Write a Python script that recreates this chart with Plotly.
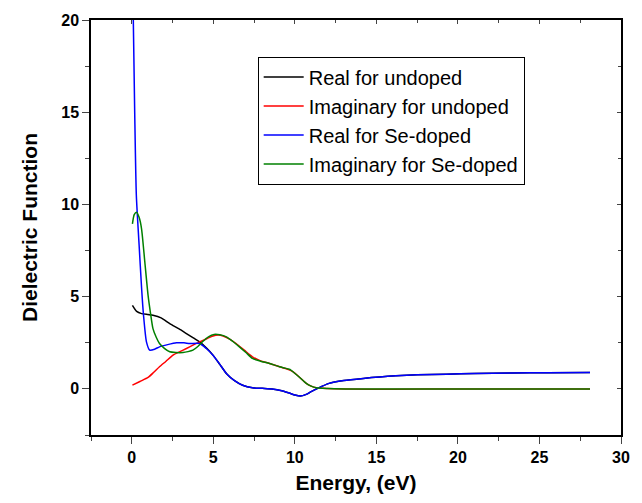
import plotly.graph_objects as go

# Real part, undoped
e_real_undoped = [0.04, 0.3, 0.6, 1.0, 1.3, 1.8, 2.33, 2.9, 3.35, 3.8, 4.16, 4.6, 4.98, 5.4, 5.8, 6.3, 6.8, 7.4, 8.0, 8.6, 9.2, 9.7, 10.0, 10.33, 10.7, 11.0, 11.4, 12.1, 13.0, 14.2, 15.2, 16.2, 17.5, 19.3, 21.0, 23.3, 25.5, 28.1]
v_real_undoped = [4.53, 4.2, 4.08, 4.03, 3.99, 3.85, 3.54, 3.25, 3.0, 2.75, 2.55, 2.2, 1.83, 1.33, 0.84, 0.45, 0.2, 0.06, 0.03, 0.0, -0.1, -0.24, -0.33, -0.39, -0.3, -0.15, 0.03, 0.3, 0.45, 0.57, 0.65, 0.71, 0.76, 0.8, 0.83, 0.86, 0.88, 0.89]

# Imaginary part, undoped
e_imag_undoped = [0.04, 0.5, 1.0, 1.35, 1.7, 2.1, 2.53, 2.95, 3.35, 3.75, 4.16, 4.6, 4.98, 5.3, 5.6, 6.0, 6.4, 6.9, 7.4, 7.9, 8.45, 9.06, 9.7, 9.88, 10.3, 10.7, 11.0, 11.3, 12.0, 13.1, 16.0, 20.0, 24.0, 28.1]
v_imag_undoped = [0.2, 0.4, 0.62, 0.9, 1.2, 1.5, 1.83, 2.02, 2.19, 2.37, 2.55, 2.72, 2.87, 2.92, 2.87, 2.7, 2.46, 2.1, 1.74, 1.52, 1.38, 1.2, 1.02, 0.93, 0.62, 0.3, 0.15, 0.06, 0.02, 0.0, -0.02, 0.0, -0.01, 0.0]

# Real part, Se-doped
e_real_se = [0.06, 0.18, 0.28, 0.45, 0.6, 0.72, 0.9, 1.1, 1.4, 1.7, 2.2, 2.74, 3.2, 3.55, 4.16, 4.57, 4.98, 5.4, 5.8, 6.3, 6.8, 7.4, 8.0, 8.6, 9.2, 9.7, 10.0, 10.33, 10.7, 11.0, 11.4, 12.1, 13.0, 14.2, 15.2, 16.2, 17.5, 19.3, 21.0, 23.3, 25.5, 28.1]
v_real_se = [22.0, 15.0, 10.5, 7.8, 5.5, 4.0, 2.55, 2.1, 2.15, 2.28, 2.4, 2.5, 2.5, 2.46, 2.46, 2.19, 1.83, 1.33, 0.84, 0.45, 0.2, 0.06, 0.03, 0.0, -0.1, -0.24, -0.33, -0.39, -0.3, -0.15, 0.03, 0.3, 0.45, 0.57, 0.65, 0.71, 0.76, 0.8, 0.83, 0.86, 0.88, 0.89]

# Imaginary part, Se-doped
e_imag_se = [0.04, 0.15, 0.29, 0.45, 0.6, 0.8, 1.0, 1.15, 1.3, 1.5, 1.7, 2.0, 2.33, 2.7, 3.14, 3.45, 3.75, 4.05, 4.37, 4.7, 5.05, 5.4, 5.8, 6.2, 6.6, 7.0, 7.4, 7.9, 8.45, 9.06, 9.7, 9.88, 10.3, 10.7, 11.0, 11.3, 12.0, 13.1, 16.0, 20.0, 24.0, 28.1]
v_imag_se = [8.95, 9.45, 9.58, 9.3, 8.68, 6.88, 5.07, 4.1, 3.27, 2.8, 2.46, 2.2, 2.01, 1.97, 1.97, 2.02, 2.1, 2.3, 2.58, 2.82, 2.95, 2.93, 2.82, 2.57, 2.28, 1.97, 1.65, 1.5, 1.38, 1.2, 1.05, 0.93, 0.62, 0.3, 0.15, 0.06, 0.02, 0.0, 0.0, 0.0, 0.0, 0.0]

x_ticks = [0, 5, 10, 15, 20, 25, 30]
y_ticks = [0, 5, 10, 15, 20]

series = [
    ("Real for undoped", e_real_undoped, v_real_undoped, "#000000"),
    ("Imaginary for undoped", e_imag_undoped, v_imag_undoped, "#ff0000"),
    ("Real for Se-doped", e_real_se, v_real_se, "#0000ff"),
    ("Imaginary for Se-doped", e_imag_se, v_imag_se, "#008000"),
]

fig = go.Figure()
for name, xs, ys, col in series:
    fig.add_trace(go.Scatter(x=xs, y=ys, mode="lines", name=name,
                             line=dict(color=col, width=1.5, shape="spline", smoothing=0.6)))

font_family = "Liberation Sans, Arial, sans-serif"
XR = [-2.5, 30]
YR = [-2.5, 20]

fig.update_layout(
    width=642, height=503,
    margin=dict(l=91, r=20, t=20, b=66),
    plot_bgcolor="white", paper_bgcolor="white",
    font=dict(family=font_family, color="black"),
    showlegend=True,
    legend=dict(x=0.3145, y=0.912, xanchor="left", yanchor="top",
                bordercolor="black", borderwidth=1, bgcolor="white",
                font=dict(family=font_family, size=20, color="black"),
                tracegroupgap=0, itemwidth=40),
    xaxis=dict(range=XR, tickvals=x_ticks, ticktext=[f"<b>{t}</b>" for t in x_ticks],
               ticks="outside", ticklen=7, tickwidth=1.2,
               showline=True, linecolor="black", linewidth=1.5, showgrid=False, zeroline=False,
               tickfont=dict(family=font_family, size=16),
               minor=dict(dtick=2.5, tick0=0, ticks="outside", ticklen=4, tickwidth=1.2, showgrid=False),
               title=dict(text="<b>Energy, (eV)</b>", font=dict(family=font_family, size=21), standoff=10)),
    yaxis=dict(range=YR, tickvals=y_ticks, ticktext=[f"<b>{t}</b>" for t in y_ticks],
               ticks="outside", ticklen=7, tickwidth=1.2,
               showline=True, linecolor="black", linewidth=1.5, showgrid=False, zeroline=False,
               tickfont=dict(family=font_family, size=16),
               minor=dict(dtick=2.5, tick0=0, ticks="outside", ticklen=4, tickwidth=1.2, showgrid=False),
               title=dict(text="<b>Dielectric Function</b>", font=dict(family=font_family, size=21), standoff=18)),
    xaxis2=dict(range=XR, overlaying="x", side="top", anchor="y", tickvals=x_ticks, ticks="inside",
                ticklen=4, tickwidth=1.2, showticklabels=False, showline=True, linecolor="black",
                linewidth=1.5, showgrid=False, zeroline=False,
                minor=dict(dtick=2.5, tick0=0, ticks="inside", ticklen=3, tickwidth=1.2)),
    yaxis2=dict(range=YR, overlaying="y", side="right", anchor="x", tickvals=y_ticks, ticks="inside",
                ticklen=4, tickwidth=1.2, showticklabels=False, showline=True, linecolor="black",
                linewidth=1.5, showgrid=False, zeroline=False,
                minor=dict(dtick=2.5, tick0=0, ticks="inside", ticklen=3, tickwidth=1.2)),
)
# invisible helper trace so that the mirrored axes are drawn
fig.add_trace(go.Scatter(x=[None], y=[None], xaxis="x2", yaxis="y2", showlegend=False, hoverinfo="skip"))

fig.write_html("out.html")
